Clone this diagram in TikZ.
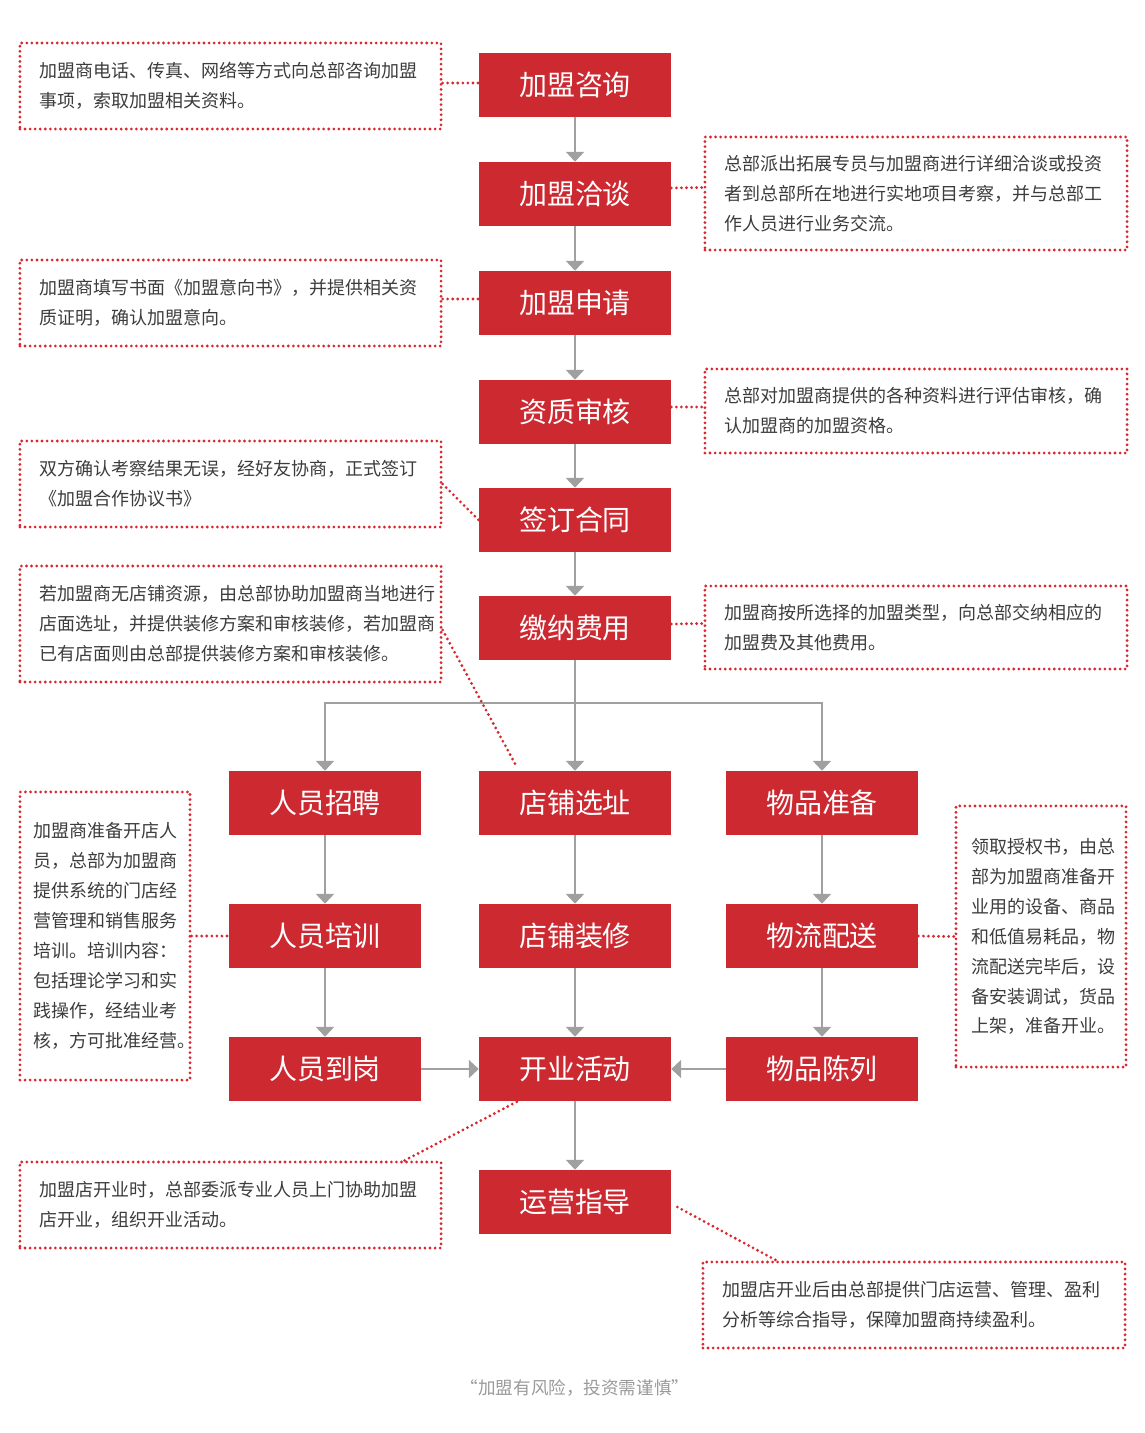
\documentclass[tikz,border=0pt]{standalone}
\usepackage{fontspec}
\setmainfont{Noto Sans CJK SC}
\usepackage{xcolor}
\usepackage{tikz}
\usetikzlibrary{positioning,calc,arrows.meta}
\definecolor{brandred}{HTML}{CC2931}
\definecolor{dotred}{HTML}{D9262F}
\definecolor{flowgray}{HTML}{A0A0A0}
\definecolor{notetext}{HTML}{3C3C3C}
\definecolor{foottext}{HTML}{9A9A9A}
\tikzset{
    stepbox/.style={fill=brandred, text=white, minimum width=4.8cm, minimum height=1.6cm, inner sep=0pt,
        font=\fontsize{19.9pt}{24pt}\selectfont},
    notebox/.style={draw=dotred, line width=2.2pt, dash pattern=on 0pt off 3.6pt, line cap=round,
        text=notetext, align=left, inner xsep=0.5cm, inner ysep=0pt,
        font=\fontsize{12.8pt}{21.3pt}\selectfont},
    flow/.style={draw=flowgray, line width=1.4pt, -{Triangle[width=12.8pt,length=7pt]}},
    link/.style={draw=dotred, line width=2.2pt, dash pattern=on 0pt off 3.6pt, line cap=round}
}
\begin{document}
\begin{tikzpicture}[x=0.025cm, y=-0.025cm]
    \useasboundingbox (0,0) rectangle (1144,1433);

    % main column
    \node[stepbox] (consult) at (575,85) {加盟咨询};
    \node[stepbox] (talk) at (575,194) {加盟洽谈};
    \node[stepbox] (apply) at (575,303) {加盟申请};
    \node[stepbox] (review) at (575,412) {资质审核};
    \node[stepbox] (sign) at (575,520) {签订合同};
    \node[stepbox] (fee) at (575,628) {缴纳费用};
    \node[stepbox] (hire) at (325,803) {人员招聘};
    \node[stepbox] (train) at (325,936) {人员培训};
    \node[stepbox] (staff) at (325,1069) {人员到岗};
    \node[stepbox] (site) at (575,803) {店铺选址};
    \node[stepbox] (decor) at (575,936) {店铺装修};
    \node[stepbox] (open) at (575,1069) {开业活动};
    \node[stepbox] (prep) at (822,803) {物品准备};
    \node[stepbox] (ship) at (822,936) {物流配送};
    \node[stepbox] (show) at (822,1069) {物品陈列};
    \node[stepbox] (guide) at (575,1202) {运营指导};

    % notes
    \node[notebox, text width=9.525cm, minimum width=10.525cm, minimum height=2.15cm] (n1) at (230.5,86)
        {加盟商电话、传真、网络等方式向总部咨询加盟\\事项，索取加盟相关资料。};
    \node[notebox, text width=9.55cm, minimum width=10.55cm, minimum height=2.825cm] (n2) at (916,193.5)
        {总部派出拓展专员与加盟商进行详细洽谈或投资\\者到总部所在地进行实地项目考察，并与总部工\\作人员进行业务交流。};
    \node[notebox, text width=9.525cm, minimum width=10.525cm, minimum height=2.15cm] (n3) at (230.5,303)
        {加盟商填写书面《加盟意向书》，并提供相关资\\质证明，确认加盟意向。};
    \node[notebox, text width=9.55cm, minimum width=10.55cm, minimum height=2.1cm] (n4) at (916,411)
        {总部对加盟商提供的各种资料进行评估审核，确\\认加盟商的加盟资格。};
    \node[notebox, text width=9.525cm, minimum width=10.525cm, minimum height=2.15cm] (n5) at (230.5,484)
        {双方确认考察结果无误，经好友协商，正式签订\\《加盟合作协议书》};
    \node[notebox, text width=9.525cm, minimum width=10.525cm, minimum height=2.9cm] (n6) at (230.5,624)
        {若加盟商无店铺资源，由总部协助加盟商当地进行\\店面选址，并提供装修方案和审核装修，若加盟商\\已有店面则由总部提供装修方案和审核装修。};
    \node[notebox, text width=9.55cm, minimum width=10.55cm, minimum height=2.075cm] (n7) at (916,627.5)
        {加盟商按所选择的加盟类型，向总部交纳相应的\\加盟费及其他费用。};
    \node[notebox, inner xsep=0.35cm, text width=3.55cm, minimum width=4.25cm, minimum height=7.2cm] (n8) at (105,936)
        {加盟商准备开店人\\员，总部为加盟商\\提供系统的门店经\\营管理和销售服务\\培训。培训内容：\\包括理论学习和实\\践操作，经结业考\\核，方可批准经营。};
    \node[notebox, inner xsep=0.4cm, text width=3.45cm, minimum width=4.25cm, minimum height=6.525cm] (n9) at (1041,936.5)
        {领取授权书，由总\\部为加盟商准备开\\业用的设备、商品\\和低值易耗品，物\\流配送完毕后，设\\备安装调试，货品\\上架，准备开业。};
    \node[notebox, text width=9.525cm, minimum width=10.525cm, minimum height=2.15cm] (n10) at (230.5,1205)
        {加盟店开业时，总部委派专业人员上门协助加盟\\店开业，组织开业活动。};
    \node[notebox, text width=9.55cm, minimum width=10.55cm, minimum height=2.15cm] (n11) at (914,1305)
        {加盟店开业后由总部提供门店运营、管理、盈利\\分析等综合指导，保障加盟商持续盈利。};

    \node[text=foottext, font=\fontsize{12.5pt}{15pt}\selectfont] (foot) at (575,1388) {“加盟有风险，投资需谨慎”};

    % flow
    \draw[flow] (consult) -- (talk);
    \draw[flow] (talk) -- (apply);
    \draw[flow] (apply) -- (review);
    \draw[flow] (review) -- (sign);
    \draw[flow] (sign) -- (fee);
    \draw[flow] (fee) -- (site);
    \coordinate (split) at (575,703);
    \draw[flow] (split) -| (hire.north);
    \draw[flow] (split) -| (prep.north);
    \draw[flow] (hire) -- (train);
    \draw[flow] (train) -- (staff);
    \draw[flow] (site) -- (decor);
    \draw[flow] (decor) -- (open);
    \draw[flow] (prep) -- (ship);
    \draw[flow] (ship) -- (show);
    \draw[flow] (staff) -- (open);
    \draw[flow] (show) -- (open);
    \draw[flow] (open) -- (guide);

    % note links
    \draw[link] ($(n1.east)+(0,-3)$) -- ($(consult.west)+(0,-2)$);
    \draw[link] ($(talk.east)+(0,-6)$) -- ($(n2.west)+(0,-6)$);
    \draw[link] ($(n3.east)+(0,-4)$) -- ($(apply.west)+(0,-4)$);
    \draw[link] ($(review.east)+(0,-5)$) -- ($(n4.west)+(0,-4)$);
    \draw[link] (n5.east) -- (sign.west);
    \draw[link] ($(n6.east)+(0,6)$) -- ($(site.north west)+(38,-4)$);
    \draw[link] ($(fee.east)+(0,-4)$) -- ($(n7.west)+(0,-4)$);
    \draw[link] (n8.east) -- (train.west);
    \draw[link] (ship.east) -- (n9.west);
    \draw[link] ($(n10.north east)+(-38,0)$) -- ($(open.south west)+(39,0)$);
    \draw[link] ($(guide.east)+(6,5)$) -- ($(n11.north west)+(75,0)$);
\end{tikzpicture}
\end{document}
